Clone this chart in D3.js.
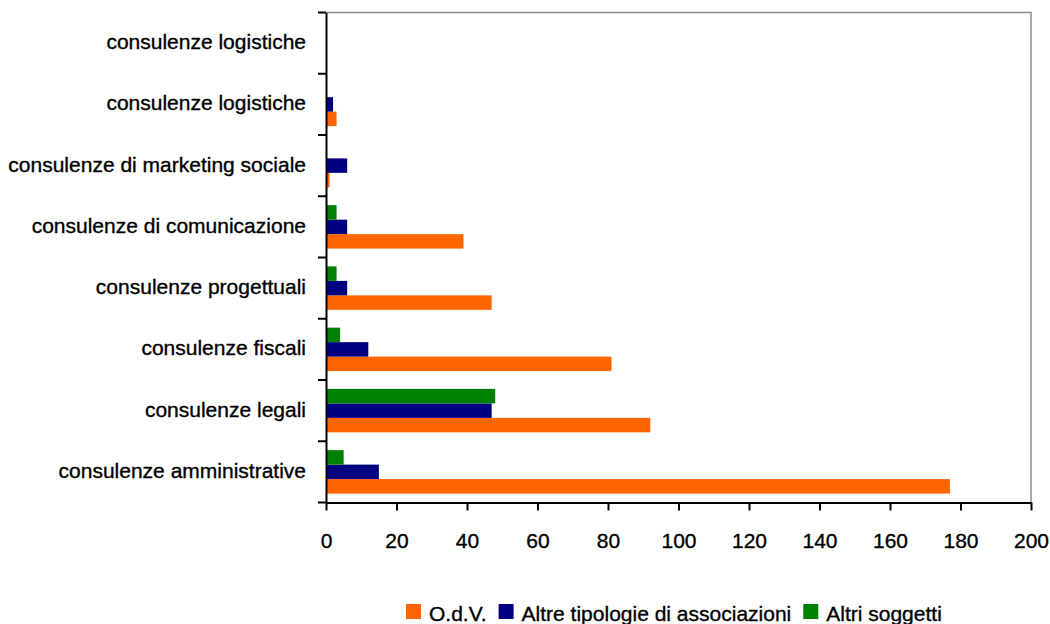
<!DOCTYPE html>
<html>
<head>
<meta charset="utf-8">
<script src="https://cdn.jsdelivr.net/npm/d3@7"></script>
<style>
  html, body { margin: 0; padding: 0; background: #fff; }
  svg { display: block; }
  text { font-family: "Liberation Sans", Arial, sans-serif; font-size: 21px; fill: #000; stroke: #000; stroke-width: 0.35px; }
</style>
</head>
<body>
<svg id="chart" width="1050" height="624"></svg>
<script>
// Categories, top to bottom
const categories = [
  "consulenze logistiche",
  "consulenze logistiche",
  "consulenze di marketing sociale",
  "consulenze di comunicazione",
  "consulenze progettuali",
  "consulenze fiscali",
  "consulenze legali",
  "consulenze amministrative"
];
const seriesNames = ["O.d.V.", "Altre tipologie di associazioni", "Altri soggetti"];
const seriesColors = ["#FF6600", "#000080", "#008000"];
const odv   = [0, 3, 1, 39, 47, 81, 92, 177];
const altre = [0, 2, 6, 6, 6, 12, 47, 15];
const altri = [0, 0, 0, 3, 3, 4, 48, 5];
const xTicks = [0, 20, 40, 60, 80, 100, 120, 140, 160, 180, 200];

const seriesValues = [odv, altre, altri];

const svg = d3.select("#chart");
const pLeft = 326, pRight = 1031, pTop = 12.5, pBottom = 502.5;

const x = d3.scaleLinear().domain([0, 200]).range([pLeft, pRight]);
const y = d3.scaleBand().domain(d3.range(categories.length)).range([pTop, pBottom]).padding(0);
// within a band: green (top), blue, orange (bottom)
const sub = d3.scaleBand().domain([2, 1, 0]).range([0, y.bandwidth()]).paddingInner(0).paddingOuter(0.615);

// frame (top and right, gray)
svg.append("path")
  .attr("d", `M${pLeft},${pTop}H${pRight}V${pBottom}`)
  .attr("fill", "none").attr("stroke", "#8c8c8c").attr("stroke-width", 1.5);

// bars
const rows = [];
categories.forEach((c, i) => {
  seriesValues.forEach((vals, s) => rows.push({ i, s, v: vals[i] }));
});
svg.append("g").selectAll("rect").data(rows.filter(d => d.v > 0)).join("rect")
  .attr("x", x(0))
  .attr("y", d => y(d.i) + sub(d.s))
  .attr("width", d => x(d.v) - x(0))
  .attr("height", sub.bandwidth())
  .attr("fill", d => seriesColors[d.s]);

// y axis
const yAxis = d3.axisLeft(y).tickValues(d3.range(categories.length)).tickFormat(() => "").tickSize(0);
const gy = svg.append("g").attr("transform", `translate(${pLeft},0)`).call(yAxis);
gy.select(".domain").attr("stroke", "#000").attr("stroke-width", 2);
gy.attr("font-family", null).attr("font-size", null);
// tick marks at band boundaries
svg.append("g").selectAll("line").data(d3.range(categories.length + 1)).join("line")
  .attr("x1", pLeft - 8).attr("x2", pLeft)
  .attr("y1", d => pTop + d * y.step()).attr("y2", d => pTop + d * y.step())
  .attr("stroke", "#000").attr("stroke-width", 2);
// category labels
svg.append("g").selectAll("text").data(categories).join("text")
  .attr("x", pLeft - 20)
  .attr("y", (d, i) => y(i) + y.bandwidth() / 2 + 6)
  .attr("text-anchor", "end")
  .text(d => d);

// x axis
const xAxis = d3.axisBottom(x).tickValues(xTicks).tickSize(8).tickSizeOuter(0).tickPadding(0);
const gx = svg.append("g").attr("transform", `translate(0,${pBottom})`).call(xAxis);
gx.attr("font-family", null).attr("font-size", null);
gx.select(".domain").attr("stroke", "#000").attr("stroke-width", 2);
gx.selectAll(".tick line").attr("stroke", "#000").attr("stroke-width", 2);
gx.selectAll(".tick text").attr("y", 45.5).attr("dy", null).attr("fill", "#000");

// legend
const legend = svg.append("g");
let lx = 406;
seriesNames.forEach((name, s) => {
  legend.append("rect").attr("x", lx).attr("y", 604).attr("width", 15).attr("height", 15).attr("fill", seriesColors[s]);
  const t = legend.append("text").attr("x", lx + 23).attr("y", 620.5).text(name);
  lx = lx + 23 + t.node().getComputedTextLength() + 12;
});
</script>
</body>
</html>
